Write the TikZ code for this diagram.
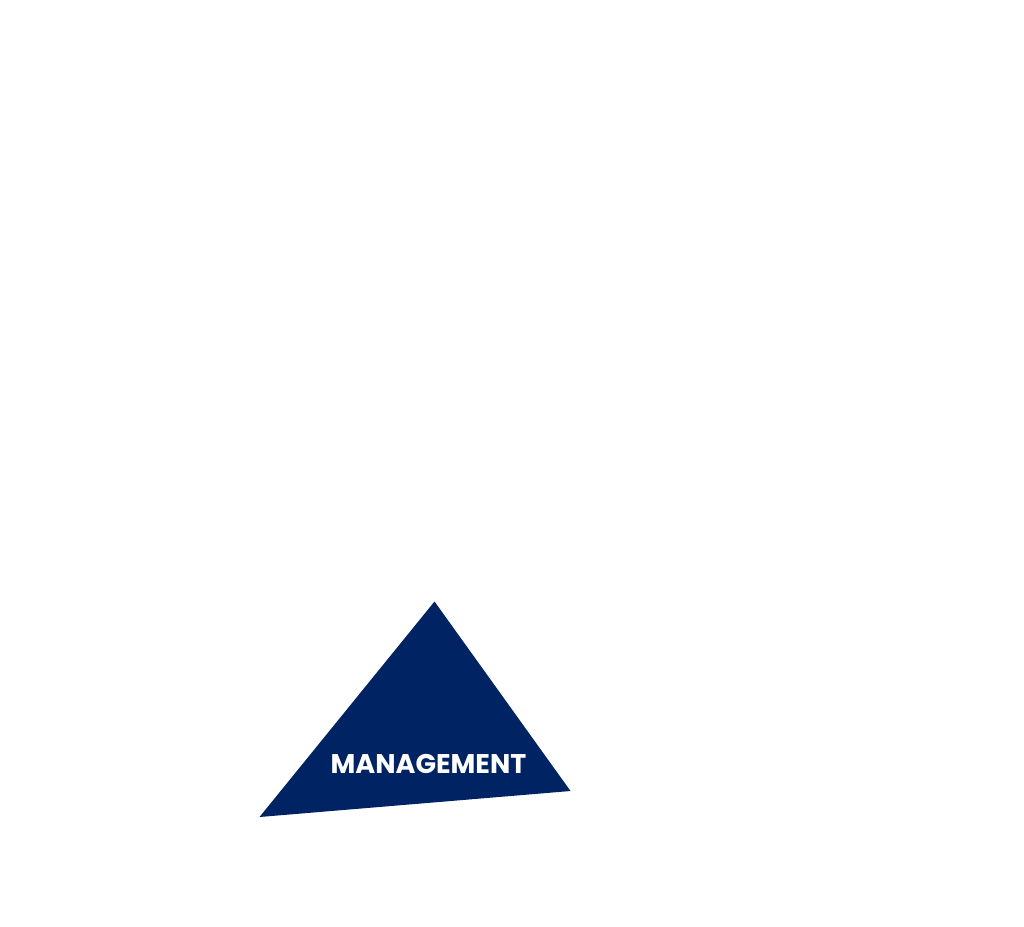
\documentclass[tikz,border=0pt]{standalone}
\usepackage{fontspec}
\setmainfont{Poppins}
\definecolor{navy}{HTML}{002364}
\begin{document}
\begin{tikzpicture}[x=1pt,y=-1pt]
\useasboundingbox[fill=white] (0,0) rectangle (1024,926);
\coordinate (top) at (434.5,601.5);
\coordinate (left) at (259.5,817);
\coordinate (right) at (570.5,791);
\fill[navy] (top) -- (left) -- (right) -- cycle;
\node[text=white,font=\fontsize{27}{31}\selectfont\bfseries,inner sep=0pt] (lbl) at (428.5,763.5) {MANAGEMENT};
\end{tikzpicture}
\end{document}
